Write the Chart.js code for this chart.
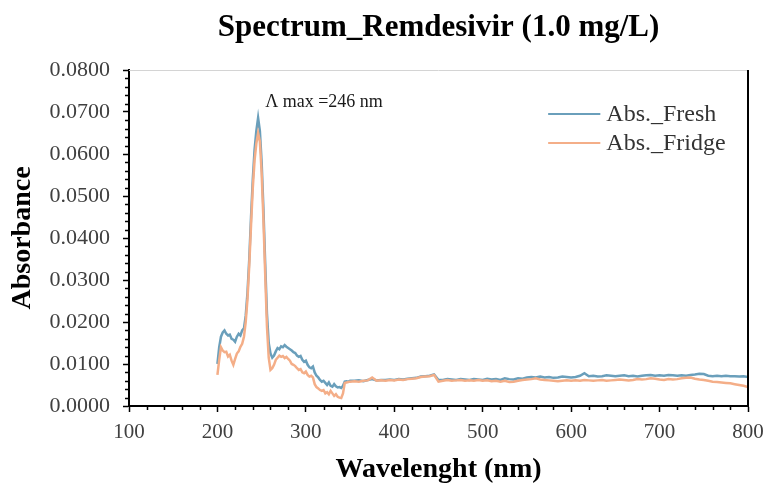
<!DOCTYPE html>
<html>
<head>
<meta charset="utf-8">
<script src="https://cdn.jsdelivr.net/npm/chart.js@4.4.1/dist/chart.umd.min.js"></script>
<style>
  html, body { margin: 0; padding: 0; background: #fff; }
</style>
</head>
<body>
<canvas id="grafico" width="767" height="488"></canvas>
<script>
// Longitudes de onda (nm)
const wavelengths = [
  200, 202, 204, 206, 208, 210, 212, 214, 216, 218,
  220, 222, 224, 226, 228, 230, 232, 234, 236, 238,
  240, 242, 244, 246, 248, 250, 252, 254, 256, 258,
  260, 262, 264, 266, 268, 270, 272, 274, 276, 278,
  280, 282, 284, 286, 288, 290, 292, 294, 296, 298,
  300, 302, 304, 306, 308, 310, 312, 314, 316, 318,
  320, 322, 324, 326, 328, 330, 332, 334, 336, 338,
  340, 342, 344, 346, 348, 350,
  355, 360, 365, 370, 375, 380, 385, 390, 395, 400,
  405, 410, 415, 420, 425, 430, 435, 440, 445, 450,
  455, 460, 465, 470, 475, 480, 485, 490, 495, 500,
  505, 510, 515, 520, 525, 530, 535, 540, 545, 550,
  555, 560, 565, 570, 575, 580, 585, 590, 595, 600,
  605, 610, 615, 620, 625, 630, 635, 640, 645, 650,
  655, 660, 665, 670, 675, 680, 685, 690, 695, 700,
  705, 710, 715, 720, 725, 730, 735, 740, 745, 750,
  755, 760, 765, 770, 775, 780, 785, 790, 795, 800
];

const absFresh = [
  0.0100, 0.0140, 0.0165, 0.0175, 0.0180, 0.0172, 0.0168, 0.0170, 0.0160, 0.0158,
  0.0153, 0.0165, 0.0172, 0.0168, 0.0180, 0.0185, 0.0215, 0.0270, 0.0350, 0.0450,
  0.0540, 0.0610, 0.0655, 0.0686, 0.0655, 0.0580, 0.0470, 0.0340, 0.0220, 0.0150,
  0.0125, 0.0115, 0.0120, 0.0130, 0.0138, 0.0135, 0.0142, 0.0140, 0.0145, 0.0141,
  0.0138, 0.0135, 0.0132, 0.0128, 0.0126, 0.0120, 0.0117, 0.0119, 0.0110, 0.0105,
  0.0108, 0.0098, 0.0092, 0.0090, 0.0094, 0.0080, 0.0072, 0.0068, 0.0062, 0.0058,
  0.0060, 0.0055, 0.0050, 0.0056, 0.0048, 0.0046, 0.0052, 0.0047, 0.0044, 0.0045,
  0.0043, 0.0048, 0.0058, 0.0059, 0.0058, 0.0060,
  0.0060, 0.0061, 0.0059, 0.0062, 0.0064, 0.0061, 0.0062, 0.0062, 0.0063, 0.0062,
  0.0064, 0.0063, 0.0065, 0.0066, 0.0067, 0.0070, 0.0071, 0.0072, 0.0075, 0.0062,
  0.0062, 0.0064, 0.0063, 0.0062, 0.0064, 0.0063, 0.0062, 0.0064, 0.0063, 0.0062,
  0.0065, 0.0063, 0.0064, 0.0062, 0.0066, 0.0064, 0.0063, 0.0066, 0.0065, 0.0068,
  0.0069, 0.0068, 0.0070, 0.0068, 0.0069, 0.0067, 0.0068, 0.0070, 0.0069, 0.0068,
  0.0069, 0.0072, 0.0078, 0.0071, 0.0072, 0.0070, 0.0071, 0.0073, 0.0072, 0.0071,
  0.0072, 0.0073, 0.0071, 0.0072, 0.0070, 0.0072, 0.0073, 0.0074, 0.0072, 0.0073,
  0.0072, 0.0074, 0.0073, 0.0072, 0.0073, 0.0072, 0.0074, 0.0075, 0.0077, 0.0076,
  0.0072, 0.0071, 0.0072, 0.0071, 0.0072, 0.0071, 0.0071, 0.0070, 0.0071, 0.0069
];

const absFridge = [
  0.0074, 0.0110, 0.0140, 0.0132, 0.0128, 0.0129, 0.0118, 0.0122, 0.0108, 0.0098,
  0.0112, 0.0125, 0.0130, 0.0141, 0.0148, 0.0165, 0.0200, 0.0255, 0.0335, 0.0430,
  0.0520, 0.0585, 0.0625, 0.0650, 0.0630, 0.0555, 0.0445, 0.0315, 0.0190, 0.0115,
  0.0086, 0.0090, 0.0098, 0.0110, 0.0115, 0.0120, 0.0117, 0.0119, 0.0114, 0.0117,
  0.0112, 0.0108, 0.0100, 0.0098, 0.0095, 0.0090, 0.0086, 0.0088, 0.0080, 0.0078,
  0.0082, 0.0074, 0.0070, 0.0072, 0.0068, 0.0052, 0.0045, 0.0042, 0.0038, 0.0036,
  0.0038, 0.0030, 0.0033, 0.0028, 0.0036, 0.0030, 0.0024, 0.0028, 0.0022, 0.0020,
  0.0019, 0.0030, 0.0055, 0.0056, 0.0057, 0.0058,
  0.0059, 0.0058, 0.0060, 0.0061, 0.0068, 0.0060, 0.0061, 0.0060, 0.0062, 0.0061,
  0.0063, 0.0062, 0.0064, 0.0065, 0.0066, 0.0069, 0.0070, 0.0071, 0.0074, 0.0058,
  0.0060, 0.0062, 0.0060, 0.0061, 0.0062, 0.0060, 0.0061, 0.0060, 0.0062, 0.0060,
  0.0061, 0.0059, 0.0060, 0.0058, 0.0060, 0.0057, 0.0058, 0.0060, 0.0062, 0.0063,
  0.0064, 0.0066, 0.0063, 0.0062, 0.0061, 0.0060, 0.0059, 0.0060, 0.0061, 0.0060,
  0.0061, 0.0060, 0.0062, 0.0061, 0.0060, 0.0061, 0.0062, 0.0060, 0.0061, 0.0062,
  0.0063, 0.0062, 0.0061, 0.0062, 0.0064, 0.0063, 0.0064, 0.0066, 0.0065, 0.0063,
  0.0062, 0.0064, 0.0063, 0.0064, 0.0066, 0.0067, 0.0068, 0.0065, 0.0063, 0.0062,
  0.0060, 0.0058, 0.0057, 0.0056, 0.0055, 0.0054, 0.0052, 0.0050, 0.0048, 0.0045
];

const seriesLabels = ["Abs._Fresh", "Abs._Fridge"];
const seriesColors = ["#6a9fbb", "#f4ae88"];
const peakLabel = "\u039B max =246 nm";

const serif = "'Liberation Serif', 'Times New Roman', serif";

// ticks menores, marco, anotación y leyenda
const extras = {
  id: "extras",
  afterDatasetsDraw(chart) {
    const { ctx, chartArea: a, scales } = chart;
    const xs = scales.x, ys = scales.y;
    ctx.save();

    // marco superior y derecho
    ctx.strokeStyle = "#d4d4d4";
    ctx.lineWidth = 1;
    ctx.beginPath();
    ctx.moveTo(a.left, a.top + 0.5);
    ctx.lineTo(a.right, a.top + 0.5);
    ctx.stroke();
    ctx.strokeStyle = "#000";
    ctx.lineWidth = 2;
    ctx.beginPath();
    ctx.moveTo(a.right, a.top);
    ctx.lineTo(a.right, a.bottom + 1);
    ctx.stroke();

    // ticks menores
    ctx.lineWidth = 1.5;
    ctx.beginPath();
    for (let k = 0; k <= 40; k++) {
      if (k % 5 === 0) continue;
      const py = Math.round(ys.getPixelForValue(k * 0.002)) + 0.5;
      ctx.moveTo(a.left - 4, py);
      ctx.lineTo(a.left, py);
    }
    for (let w = 100; w <= 800; w += 20) {
      if (w % 100 === 0) continue;
      const px = Math.round(xs.getPixelForValue(w)) + 0.5;
      ctx.moveTo(px, a.bottom);
      ctx.lineTo(px, a.bottom + 4);
    }
    ctx.stroke();

    // anotación del máximo
    ctx.fillStyle = "#1a1a1a";
    ctx.font = "18px " + serif;
    ctx.textAlign = "left";
    ctx.textBaseline = "middle";
    ctx.fillText(peakLabel, xs.getPixelForValue(254), ys.getPixelForValue(0.0722));

    // leyenda
    ctx.font = "24px " + serif;
    ctx.fillStyle = "#333";
    const lx1 = xs.getPixelForValue(574), lx2 = xs.getPixelForValue(633);
    const legY = [0.0695, 0.0626];
    seriesLabels.forEach((lab, i) => {
      const py = ys.getPixelForValue(legY[i]);
      ctx.strokeStyle = seriesColors[i];
      ctx.lineWidth = 2;
      ctx.beginPath();
      ctx.moveTo(lx1, py);
      ctx.lineTo(lx2, py);
      ctx.stroke();
      ctx.fillText(lab, lx2 + 6, py + 1);
    });

    ctx.restore();
  }
};

const ctx = document.getElementById("grafico").getContext("2d");
new Chart(ctx, {
  type: "line",
  data: {
    datasets: [
      {
        label: seriesLabels[0],
        data: wavelengths.map((w, i) => ({ x: w, y: absFresh[i] })),
        borderColor: seriesColors[0],
        borderWidth: 2.5,
        order: 1,
      },
      {
        label: seriesLabels[1],
        data: wavelengths.map((w, i) => ({ x: w, y: absFridge[i] })),
        borderColor: seriesColors[1],
        borderWidth: 2.5,
        order: 0,
      },
    ],
  },
  options: {
    responsive: false,
    animation: false,
    layout: { padding: { left: 0, right: 19, top: 0, bottom: 0 } },
    elements: { point: { radius: 0 }, line: { tension: 0 } },
    plugins: {
      legend: { display: false },
      tooltip: { enabled: false },
      title: {
        display: true,
        text: "Spectrum_Remdesivir (1.0 mg/L)",
        fullSize: false,
        color: "#000",
        font: { family: serif, size: 31, weight: "bold", lineHeight: 1.2 },
        padding: { top: 9, bottom: 23.8 },
      },
    },
    scales: {
      x: {
        type: "linear",
        min: 100,
        max: 800,
        ticks: { stepSize: 100, color: "#404040", font: { family: serif, size: 21 }, padding: 8 },
        grid: { drawOnChartArea: false, tickLength: 6, color: "#000", tickWidth: 1.5 },
        border: { color: "#000", width: 2 },
        title: {
          display: true,
          text: "Wavelenght (nm)",
          color: "#000",
          font: { family: serif, size: 28, weight: "bold", lineHeight: 1.2 },
          padding: { top: 0, bottom: 1 },
        },
        afterFit(s) {
          s.height = 82;
          s.paddingLeft = 0;
          s.paddingRight = 0;
        },
      },
      y: {
        min: 0,
        max: 0.08,
        ticks: {
          stepSize: 0.01,
          color: "#404040",
          font: { family: serif, size: 22 },
          padding: 13,
          callback: (v) => v.toFixed(4),
        },
        grid: { drawOnChartArea: false, tickLength: 6, color: "#000", tickWidth: 1.5 },
        border: { color: "#000", width: 2 },
        title: {
          display: true,
          text: "Absorbance",
          color: "#000",
          font: { family: serif, size: 28, weight: "bold", lineHeight: 1.2 },
          padding: { top: 6, bottom: 0 },
        },
        afterFit(s) {
          s.width = 129;
          s.paddingTop = 0;
          s.paddingBottom = 0;
        },
      },
    },
  },
  plugins: [extras],
});
</script>
</body>
</html>
